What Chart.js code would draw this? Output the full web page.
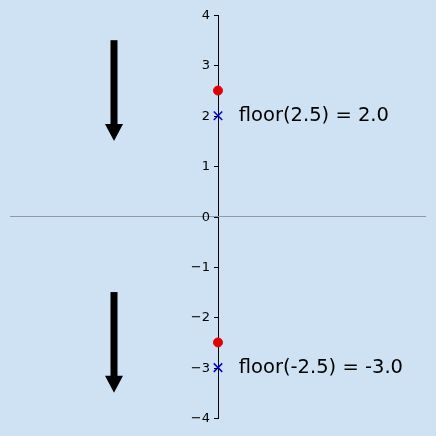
<!DOCTYPE html>
<html>
<head>
<script src="https://cdn.jsdelivr.net/npm/chart.js@4"></script>
<style>
  body { margin: 0; background: #cfe2f3; }
  #wrap { width: 436px; height: 436px; }
</style>
</head>
<body>
<div id="wrap"><canvas id="c"></canvas></div>
<script>
const values = [2.5, -2.5];
const floors = [2.0, -3.0];
const labels = ["floor(2.5) = 2.0", "floor(-2.5) = -3.0"];
const arrowX = -0.5;
const arrowStart = [3.5, -1.5];
const arrowEnd = [1.5, -3.5];
const yTicks = [-4, -3, -2, -1, 0, 1, 2, 3, 4];

const overlay = {
    id: "overlay",
    afterDatasetsDraw(chart) {
        const ctx = chart.ctx;
        const xs = chart.scales.x, ys = chart.scales.y;
        const x0 = xs.getPixelForValue(0);
        ctx.save();
        // y ticks, drawn left of the centred axis
        ctx.strokeStyle = "#000";
        ctx.lineWidth = 1;
        ctx.fillStyle = "#000";
        ctx.font = "13px 'DejaVu Sans'";
        ctx.textAlign = "right";
        ctx.textBaseline = "middle";
        yTicks.forEach(v => {
            const y = Math.round(ys.getPixelForValue(v)) + 0.5;
            ctx.beginPath();
            ctx.moveTo(x0 - 4, y);
            ctx.lineTo(x0, y);
            ctx.stroke();
            ctx.fillText(v < 0 ? "\u2212" + Math.abs(v) : String(v), x0 - 8, y);
        });
        // arrows
        for (let i = 0; i < arrowStart.length; i++) {
            const x = xs.getPixelForValue(arrowX);
            const y0 = ys.getPixelForValue(arrowStart[i]);
            const y1 = ys.getPixelForValue(arrowEnd[i]);
            ctx.fillRect(x - 3.5, y0, 7, (y1 - y0) - 16);
            ctx.beginPath();
            ctx.moveTo(x - 9, y1 - 17);
            ctx.lineTo(x + 9, y1 - 17);
            ctx.lineTo(x, y1);
            ctx.closePath();
            ctx.fill();
        }
        // labels
        ctx.font = "19.5px 'DejaVu Sans'";
        ctx.textAlign = "left";
        for (let i = 0; i < labels.length; i++) {
            ctx.fillText(labels[i], xs.getPixelForValue(0.1), ys.getPixelForValue(floors[i]));
        }
        ctx.restore();
    }
};

new Chart(document.getElementById("c"), {
    type: "scatter",
    data: {
        datasets: [
            {
                type: "line",
                data: [{ x: -1, y: 0 }, { x: 1, y: 0 }],
                borderColor: "#8a9aa8",
                borderWidth: 1,
                pointRadius: 0
            },
            {
                data: values.map(v => ({ x: 0, y: v })),
                backgroundColor: "#e00000",
                borderColor: "#e00000",
                pointRadius: 4.5
            },
            {
                data: floors.map(v => ({ x: 0, y: v })),
                pointStyle: "cross",
                rotation: 45,
                borderColor: "#0000cc",
                borderWidth: 1.5,
                pointRadius: 6
            }
        ]
    },
    options: {
        responsive: true,
        maintainAspectRatio: false,
        animation: false,
        layout: { padding: { left: 10, right: 10, top: 15, bottom: 18 } },
        plugins: { legend: { display: false }, tooltip: { enabled: false } },
        scales: {
            x: { type: "linear", min: -1, max: 1, display: false },
            y: {
                type: "linear",
                min: -4, max: 4,
                position: { x: 0 },
                grid: { display: false },
                border: { color: "#000", width: 1 },
                ticks: { display: false }
            }
        }
    },
    plugins: [overlay]
});
</script>
</body>
</html>
